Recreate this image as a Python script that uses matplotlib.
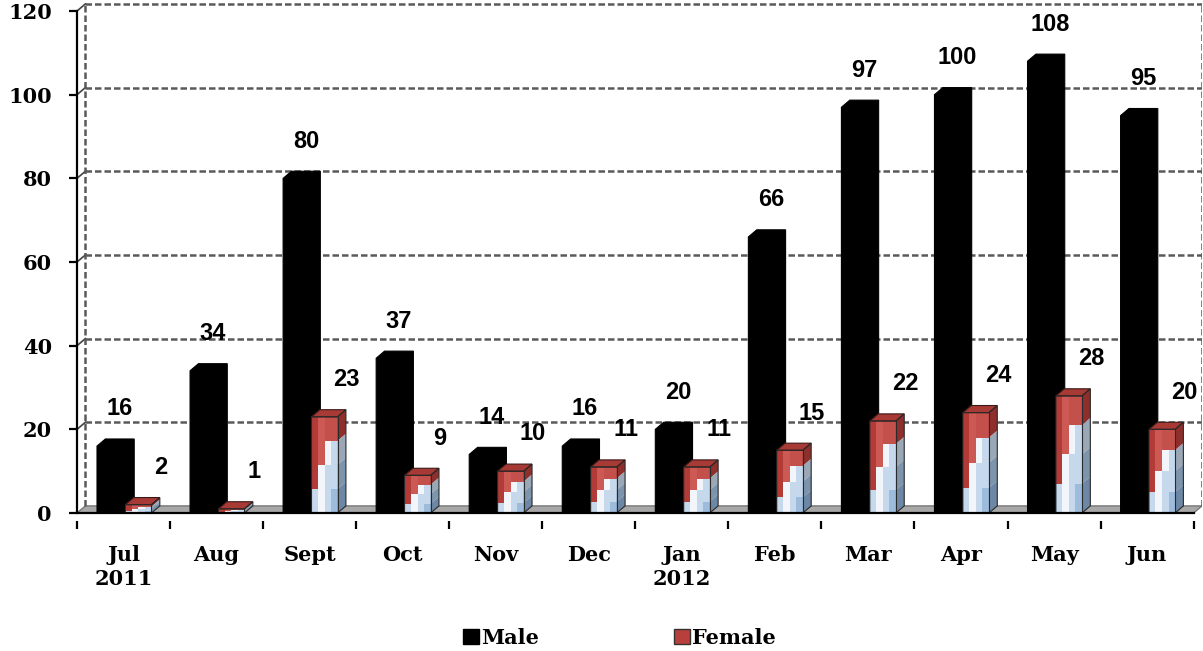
import numpy as np
import matplotlib.pyplot as plt
from matplotlib.patches import Polygon, Rectangle, Patch

# data
months = ['Jul\n2011', 'Aug', 'Sept', 'Oct', 'Nov', 'Dec', 'Jan\n2012',
          'Feb', 'Mar', 'Apr', 'May', 'Jun']
male = [16, 34, 80, 37, 14, 16, 20, 66, 97, 100, 108, 95]
female = [2, 1, 23, 9, 10, 11, 11, 15, 22, 24, 28, 20]
y_ticks = [0, 20, 40, 60, 80, 100, 120]

# 3d look
dx = 0.09   # depth in category units
dy = 1.7    # depth in value units
m_off, m_w = 0.215, 0.31
f_off, f_w = 0.52, 0.28

serif = ['DejaVu Serif']
sans = ['Liberation Sans', 'DejaVu Sans']

# texture for the female bars (rows top -> bottom)
R1, R2, R3 = '#b23b37', '#cd5955', '#c4504c'
W, LB, B = '#f2f6fa', '#c5d8ec', '#9dbbdb'
pattern = [[R1, R2, R3, R3],
           [R1, R2, W, LB],
           [R1, W, LB, LB],
           [LB, W, LB, B]]
side_cols = ['#8e2f2c', '#9aa7b6', '#7d94ad', '#6d88a6']

fig = plt.figure(figsize=(12.03, 6.51), dpi=100)
ax = fig.add_axes([77 / 1203, 0.1991, (1202 - 77) / 1203, 0.7968])
ax.set_xlim(-0.5, 11.5 + dx)
ax.set_ylim(-2, 122)

# floor
ax.add_patch(Polygon([(-0.5, 0), (11.5, 0), (11.5 + dx, dy), (-0.5 + dx, dy)],
                     closed=True, facecolor='#a8a8a8', edgecolor='#777777',
                     lw=1, zorder=1))

# back wall grid
grid_kw = dict(color='#5a5a5a', lw=1.8, ls=(0, (2.6, 1.2)), zorder=1.5)
for v in y_ticks[1:]:
    ax.plot([-0.5 + dx, 11.5 + dx], [v + dy, v + dy], **grid_kw)
    ax.plot([-0.5, -0.5 + dx], [v, v + dy], color='#444444', lw=1.2, zorder=1.5)
ax.plot([-0.5 + dx, -0.5 + dx], [dy, 120 + dy], **grid_kw)
ax.plot([11.5 + dx, 11.5 + dx], [dy, 120 + dy], **grid_kw)

for i in range(len(months)):
    left = i - 0.5
    # male bar, all black
    x0 = left + m_off
    x1 = x0 + m_w
    v = male[i]
    ax.add_patch(Polygon([(x0, 0), (x0, v), (x0 + dx, v + dy), (x1 + dx, v + dy),
                          (x1 + dx, dy), (x1, 0)], closed=True,
                         facecolor='black', edgecolor='black', lw=0.8, zorder=3))
    ax.text(i - 0.04, v + dy + 7.2, str(v), ha='center', va='center',
            fontsize=17, fontweight='bold', family=sans, zorder=6)

    # female bar, textured front
    x0 = left + f_off
    x1 = x0 + f_w
    v = female[i]
    nr, nc = len(pattern), len(pattern[0])
    for r in range(nr):
        for c in range(nc):
            ax.add_patch(Rectangle((x0 + c * f_w / nc, v - (r + 1) * v / nr),
                                   f_w / nc, v / nr, facecolor=pattern[r][c],
                                   edgecolor='none', zorder=4))
        ax.add_patch(Polygon([(x1, v - r * v / nr), (x1 + dx, v - r * v / nr + dy),
                              (x1 + dx, v - (r + 1) * v / nr + dy),
                              (x1, v - (r + 1) * v / nr)], closed=True,
                             facecolor=side_cols[r], edgecolor='none', zorder=4))
    ax.add_patch(Polygon([(x0, v), (x0 + dx, v + dy), (x1 + dx, v + dy), (x1, v)],
                         closed=True, facecolor='#a83a36', edgecolor='#3a1a18',
                         lw=0.8, zorder=4.5))
    ax.add_patch(Polygon([(x0, 0), (x0, v), (x1, v), (x1 + dx, v + dy),
                          (x1 + dx, dy), (x1, 0)], closed=True, fill=False,
                         edgecolor='#2a2a2a', lw=0.8, zorder=4.6))
    ax.plot([x1, x1], [0, v], color='#2a2a2a', lw=0.8, zorder=4.6)
    ax.text(i + 0.4, v + dy + 7.2, str(v), ha='center', va='center',
            fontsize=17, fontweight='bold', family=sans, zorder=6)

# axis lines
ax.plot([-0.5, 11.5], [0, 0], color='black', lw=1.6, zorder=5)
for s in ['top', 'right', 'bottom']:
    ax.spines[s].set_visible(False)
ax.spines['left'].set_bounds(0, 120)
ax.spines['left'].set_linewidth(1.6)
ax.spines['left'].set_zorder(5)

ax.set_yticks(y_ticks)
ax.set_yticklabels([str(t) for t in y_ticks], fontsize=15, fontweight='bold',
                   family=serif)
ax.tick_params(axis='y', length=6, width=1.6, pad=12)

ax.set_xticks(np.arange(-0.5, 12, 1))
ax.set_xticklabels([])
ax.tick_params(axis='x', which='major', length=6, width=1.6, direction='out')
ax.set_xticks(range(len(months)), minor=True)
ax.set_xticklabels(months, minor=True, fontsize=15, fontweight='bold',
                   family=serif, linespacing=1.25, va='top')
ax.tick_params(axis='x', which='minor', length=0, pad=17)

handles = [Patch(facecolor='black', edgecolor='black'),
           Patch(facecolor='#b8403c', edgecolor='#333333')]
fig.legend(handles, ['Male', 'Female'], loc='center', bbox_to_anchor=(0.515, 0.02),
           ncol=2, frameon=False, handlelength=0.75, handleheight=0.75,
           handletextpad=0.1, columnspacing=6.5,
           prop={'family': serif, 'weight': 'bold', 'size': 15})

fig.savefig('out.png', dpi=100)
